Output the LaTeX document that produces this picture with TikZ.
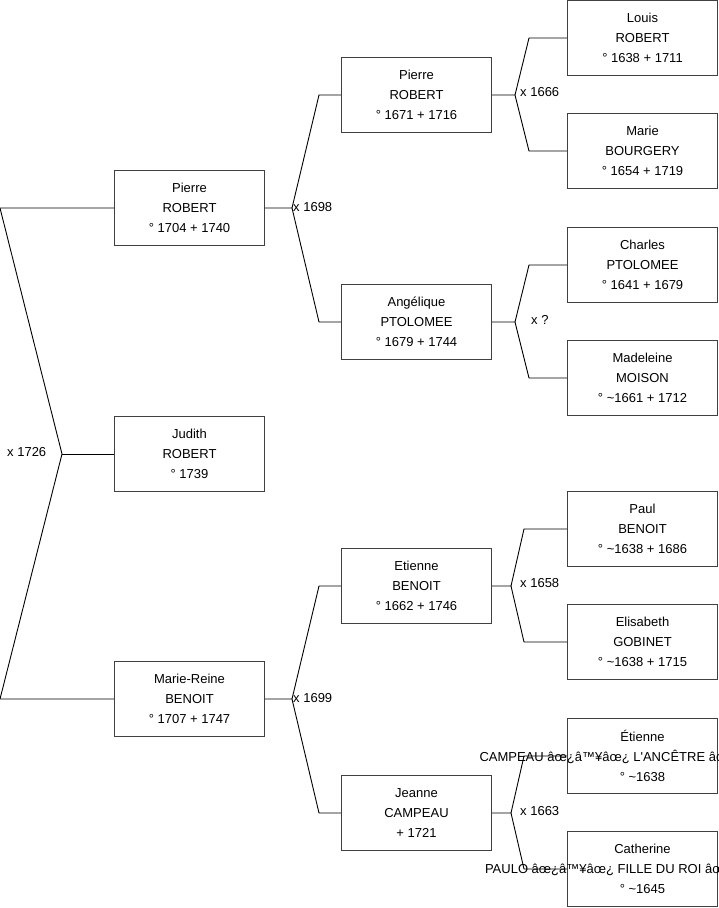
\documentclass[tikz,border=0pt]{standalone}
\usepackage{fontspec}
\setmainfont{Liberation Sans}
\begin{document}
\begin{tikzpicture}[x=1pt,y=-1pt,
  person/.style={draw=black!75, fill=white, line width=1.1pt, minimum width=150pt, minimum height=75pt,
    align=center, inner sep=0pt, font=\fontsize{13}{20}\selectfont},
  lbl/.style={anchor=west, inner sep=0pt, font=\fontsize{13}{16}\selectfont},
  link/.style={draw=black, line width=0.9pt}]
\clip (0,0) rectangle (719,908);
\fill[white] (0,0) rectangle (719,908);
% persons
\node[person] (p1) at (189.5,208) {Pierre\\ROBERT\\° 1704 + 1740};
\node[person] (j)  at (189.5,454) {Judith\\ROBERT\\° 1739};
\node[person] (mr) at (189.5,699) {Marie-Reine\\BENOIT\\° 1707 + 1747};
\node[person] (p2) at (416.5,95)  {Pierre\\ROBERT\\° 1671 + 1716};
\node[person] (an) at (416.5,322) {Angélique\\PTOLOMEE\\° 1679 + 1744};
\node[person] (et) at (416.5,586) {Etienne\\BENOIT\\° 1662 + 1746};
\node[person] (je) at (416.5,813) {Jeanne\\CAMPEAU\\+ 1721};
\node[person] (lo) at (642.5,38)  {Louis\\ROBERT\\° 1638 + 1711};
\node[person] (ma) at (642.5,151) {Marie\\BOURGERY\\° 1654 + 1719};
\node[person] (ch) at (642.5,265) {Charles\\PTOLOMEE\\° 1641 + 1679};
\node[person] (md) at (642.5,378) {Madeleine\\MOISON\\° \textasciitilde1661 + 1712};
\node[person] (pa) at (642.5,529) {Paul\\BENOIT\\° \textasciitilde1638 + 1686};
\node[person] (el) at (642.5,642) {Elisabeth\\GOBINET\\° \textasciitilde1638 + 1715};
\node[person] (ei) at (642.5,756) {Étienne\\\makebox[0pt][l]{\hspace{-163pt}CAMPEAU âœ¿â™¥âœ¿ L\textquotesingle ANCÊTRE âœ¿â™¥âœ¿}\\° \textasciitilde1638};
\node[person] (ca) at (642.5,869) {Catherine\\\makebox[0pt][l]{\hspace{-157.5pt}PAULO âœ¿â™¥âœ¿ FILLE DU ROI âœ¿â™¥âœ¿}\\° \textasciitilde1645};
% helper coordinates
\coordinate (L)  at (0,0);
\coordinate (b1) at (319,0);
\coordinate (b2) at (529,0);
\coordinate (b3) at (524,0);
\coordinate (f0) at (62,454);
\coordinate (f1) at (292,208);
\coordinate (f2) at (292,699);
\coordinate (f3) at (515,95);
\coordinate (f4) at (515,322);
\coordinate (f5) at (511,586);
\coordinate (f6) at (511,813);
% connectors
\draw[link] (p1.west) -- (p1.west -| L) -- (f0) -- (mr.west -| L) -- (mr.west);
\draw[link] (f0) -- (j.west);
\draw[link] (p1.east) -- (f1) -- (p2.west -| b1) -- (p2.west);
\draw[link] (f1) -- (an.west -| b1) -- (an.west);
\draw[link] (mr.east) -- (f2) -- (et.west -| b1) -- (et.west);
\draw[link] (f2) -- (je.west -| b1) -- (je.west);
\draw[link] (p2.east) -- (f3) -- (lo.west -| b2) -- (lo.west);
\draw[link] (f3) -- (ma.west -| b2) -- (ma.west);
\draw[link] (an.east) -- (f4) -- (ch.west -| b2) -- (ch.west);
\draw[link] (f4) -- (md.west -| b2) -- (md.west);
\draw[link] (et.east) -- (f5) -- (pa.west -| b3) -- (pa.west);
\draw[link] (f5) -- (el.west -| b3) -- (el.west);
\draw[link] (je.east) -- (f6) -- (ei.west -| b3) -- (ei.west);
\draw[link] (f6) -- (ca.west -| b3) -- (ca.west);
% marriage labels
\node[lbl] (l0) at (7,452)   {x 1726};
\node[lbl] (l1) at (293,207) {x 1698};
\node[lbl] (l2) at (293,698) {x 1699};
\node[lbl] (l3) at (520,92)  {x 1666};
\node[lbl] (l4) at (531,320) {x ?};
\node[lbl] (l5) at (520,583) {x 1658};
\node[lbl] (l6) at (520,811) {x 1663};
\end{tikzpicture}
\end{document}
